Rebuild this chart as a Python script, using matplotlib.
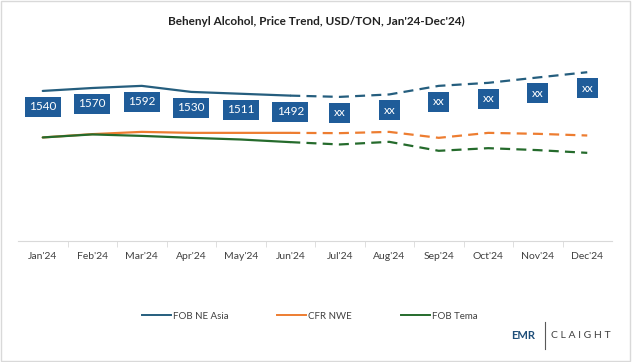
import matplotlib.pyplot as plt
import matplotlib as mpl
from matplotlib.patches import Rectangle
from matplotlib.lines import Line2D
import numpy as np

mpl.rcParams.update({
    "font.family": ["Lato", "DejaVu Sans"],
    "figure.dpi": 100,
})

months = ["Jan'24", "Feb'24", "Mar'24", "Apr'24", "May'24", "Jun'24",
          "Jul'24", "Aug'24", "Sep'24", "Oct'24", "Nov'24", "Dec'24"]

# actual (Jan-Jun) and forecast (Jun-Dec) values, USD/TON
asia_actual = [1540, 1570, 1592, 1530, 1511, 1492]
asia_fcst = [1492, 1479, 1504, 1592, 1623, 1678, 1732]
nwe_actual = [1063, 1097, 1120, 1110, 1110, 1110]
nwe_fcst = [1110, 1107, 1120, 1059, 1110, 1100, 1083]
tema_actual = [1063, 1094, 1079, 1059, 1042, 1015]
tema_fcst = [1015, 991, 1018, 926, 953, 933, 905]

asia_labels = ["1540", "1570", "1592", "1530", "1511", "1492",
               "xx", "xx", "xx", "xx", "xx", "xx"]

COLORS = {
    "FOB NE Asia": "#255e7e",
    "CFR NWE": "#ed7d31",
    "FOB Tema": "#256b2c",
}
BOX = "#1f5c99"

fig = plt.figure(figsize=(6.32, 3.62))
ax = fig.add_axes([18 / 632, 0.334, 594 / 632, 0.5387])

x = np.arange(len(months))
xa = x[:6]
xf = x[5:]

series = [
    ("FOB NE Asia", asia_actual, asia_fcst),
    ("CFR NWE", nwe_actual, nwe_fcst),
    ("FOB Tema", tema_actual, tema_fcst),
]
for name, act, fc in series:
    c = COLORS[name]
    ax.plot(xa, act, color=c, lw=1.6, solid_capstyle="round")
    ax.plot(xf, fc, color=c, lw=1.6, ls=(0, (4.5, 2.8)))

# data labels for FOB NE Asia
asia_all = asia_actual + asia_fcst[1:]
for xi, yi, lab in zip(x, asia_all, asia_labels):
    ax.annotate(lab, (xi, yi), xytext=(0, -11.5), textcoords="offset points",
                ha="center", va="center", fontsize=8.5, color="white",
                bbox=dict(boxstyle="square,pad=0.38", fc=BOX, ec="none"))

ax.set_xlim(-0.5, 11.5)
ax.set_ylim(0, 2000)
ax.set_yticks([])
ax.set_xticks(x)
ax.set_xticklabels(months, fontsize=7.5, color="#404040")
ax.set_xticks(np.arange(0.5, 11, 1), minor=True)
ax.tick_params(axis="x", which="major", length=0, pad=8)
ax.tick_params(axis="x", which="minor", length=4, color="#d9d9d9")
for s in ["top", "right", "left"]:
    ax.spines[s].set_visible(False)
ax.spines["bottom"].set_color("#d9d9d9")

fig.text(0.5, 0.94, "Behenyl Alcohol, Price Trend, USD/TON, Jan'24-Dec'24)",
         ha="center", va="center", fontsize=8.5, fontweight="bold", color="#222222")

handles = [Line2D([], [], color=COLORS[n], lw=1.4) for n in COLORS]
fig.legend(handles, list(COLORS), loc="center", bbox_to_anchor=(0.49, 0.127),
           ncol=3, frameon=False, fontsize=7, handlelength=3.0,
           handletextpad=0.2, columnspacing=5.0, labelcolor="#404040")

# logo
fig.text(535 / 632, 0.072, "EMR", ha="right", va="center", fontsize=8,
         fontweight="bold", color="#1f4e79")
fig.add_artist(Line2D([545 / 632, 545 / 632], [0.035, 0.11], color="#595959", lw=0.8))
fig.text(551 / 632, 0.072, "C L A I G H T", ha="left", va="center",
         fontsize=7.5, color="#404040")

fig.add_artist(Rectangle((0.002, 0.003), 0.995, 0.993, transform=fig.transFigure,
                         fill=False, ec="#d9d9d9", lw=1))

fig.savefig("out.png", dpi=100)
